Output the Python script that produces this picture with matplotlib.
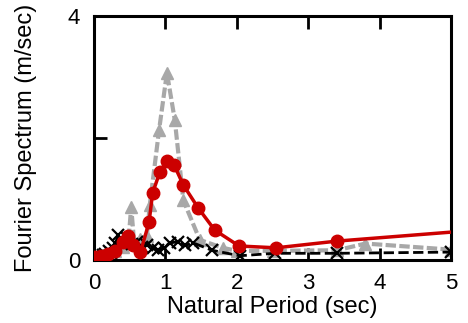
import numpy as np
import matplotlib
matplotlib.use("Agg")
import matplotlib.pyplot as plt

plt.rcParams["font.family"] = ["Liberation Sans", "DejaVu Sans"]

# red series (circles)
periodo_vermelho = [0.02, 0.1, 0.2, 0.3, 0.4, 0.47, 0.55, 0.65, 0.77, 0.82, 0.92,
                    1.02, 1.12, 1.25, 1.46, 1.69, 2.03, 2.55, 3.4, 6.0]
espectro_vermelho = [0.05, 0.06, 0.1, 0.15, 0.3, 0.4, 0.25, 0.13, 0.62, 1.1, 1.44,
                     1.62, 1.56, 1.23, 0.85, 0.49, 0.23, 0.2, 0.31, 0.55]

# grey series (arrows)
periodo_cinza = [0.0, 0.1, 0.2, 0.3, 0.4, 0.48, 0.52, 0.56, 0.65, 0.74, 0.78,
                 0.91, 1.02, 1.13, 1.25, 1.48, 1.8, 2.0, 2.5, 3.4, 3.8, 5.0]
espectro_cinza = [0.03, 0.06, 0.1, 0.15, 0.22, 0.3, 0.87, 0.3, 0.35, 0.4, 0.9,
                  2.13, 3.07, 2.3, 0.98, 0.33, 0.2, 0.15, 0.15, 0.16, 0.27, 0.17]

# black series (crosses)
periodo_preto = [0.0, 0.03, 0.06, 0.09, 0.12, 0.15, 0.18, 0.21, 0.24, 0.27, 0.3,
                 0.34, 0.4, 0.46, 0.53, 0.6, 0.67, 0.74, 0.82, 0.9, 0.98, 1.06,
                 1.18, 1.28, 1.39, 1.65, 2.04, 2.53, 3.4, 5.0]
espectro_preto = [0.02, 0.04, 0.06, 0.05, 0.08, 0.1, 0.07, 0.14, 0.12, 0.2, 0.28,
                  0.41, 0.3, 0.36, 0.27, 0.3, 0.22, 0.25, 0.2, 0.16, 0.2, 0.28,
                  0.3, 0.24, 0.28, 0.16, 0.07, 0.11, 0.11, 0.13]

fig = plt.figure(figsize=(4.68, 3.23), dpi=100)
ax = fig.add_axes([0.201, 0.195, 0.763, 0.755])

ax.plot(periodo_cinza, espectro_cinza, color="#a8a8a8", linestyle=(0, (2.5, 0.8)),
        linewidth=3, marker="^", markersize=8, zorder=2)
ax.plot(periodo_preto, espectro_preto, color="black", linestyle="--",
        linewidth=2, marker="x", markersize=8, markeredgewidth=1.6, zorder=3)
ax.plot(periodo_vermelho, espectro_vermelho, color="#cc0000", linestyle="-",
        linewidth=2.5, marker="o", markersize=9, zorder=4)

ax.set_xlim(0, 5)
ax.set_ylim(0, 4)
ax.set_xticks([0, 1, 2, 3, 4, 5])
ax.set_yticks([0, 2, 4])
ax.set_yticklabels(["0", "", "4"])
ax.tick_params(direction="in", length=9, width=2, labelsize=16, top=True)
ax.tick_params(axis="x", pad=9)
ax.tick_params(axis="y", pad=10)
for sp in ax.spines.values():
    sp.set_linewidth(2.2)

ax.set_xlabel("Natural Period (sec)", fontsize=17, labelpad=2)
ax.set_ylabel("Fourier Spectrum (m/sec)", fontsize=17, labelpad=22)

fig.savefig("out.png", dpi=100)
